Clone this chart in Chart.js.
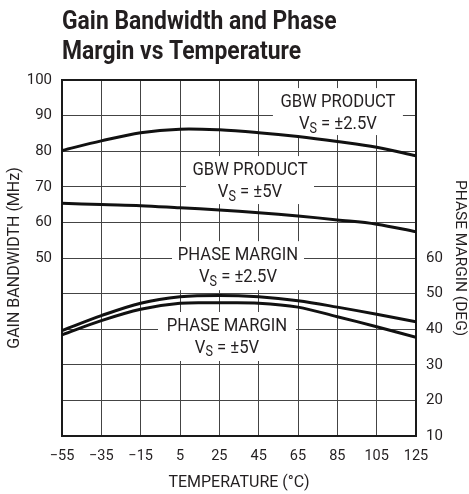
<!DOCTYPE html>
<html><head><meta charset="utf-8">
<script src="https://cdn.jsdelivr.net/npm/chart.js@4/dist/chart.umd.min.js"></script>
<style>html,body{margin:0;padding:0;background:#fff}#wrap{width:469px;height:494px;position:relative}</style>
</head><body><div id="wrap"><canvas id="c" width="469" height="494"></canvas></div>
<script>
// ---- data ----
const temperatures = [-55, -35, -15, 5, 25, 45, 65, 85, 105, 125];
const gbw25 = [80.2, 82.9, 85.2, 86.2, 86.0, 85.2, 84.1, 82.7, 81.1, 78.7];
const gbw5  = [65.4, 65.0, 64.7, 64.1, 63.5, 62.7, 61.8, 60.7, 59.5, 57.4];
const pm25  = [39.6, 43.8, 47.3, 49.1, 49.5, 49.1, 48.0, 46.2, 44.2, 42.1];
const pm5   = [38.4, 42.4, 45.6, 47.3, 47.4, 47.3, 46.2, 43.5, 40.7, 37.7];
const gbwTickLabels = [50, 60, 70, 80, 90, 100];
const pmTickLabels = [10, 20, 30, 40, 50, 60];
const titleLines = ['Gain Bandwidth and Phase', 'Margin vs Temperature'];

const FF = '"Liberation Sans Narrow", "Arial Narrow", "Roboto", sans-serif';
const INK = '#231f20';

function pts(arr) { return temperatures.map((t, i) => ({x: t, y: arr[i]})); }
function fmtMinus(v) { return v < 0 ? '\u2212' + Math.abs(v) : String(v); }

// label anchors in data units (x: °C, y: value on the named axis)
const annotations = [
  {axis: 'y',  x: 85.3, y: 93.8, w: 130, h: 47, line1: 'GBW PRODUCT', rest: ' = \u00b12.5V'},
  {axis: 'y',  x: 40.6, y: 74.7, w: 128, h: 48, line1: 'GBW PRODUCT', rest: ' = \u00b15V'},
  {axis: 'y2', x: 34.5, y: 60.8, w: 132, h: 49, line1: 'PHASE MARGIN', rest: ' = \u00b12.5V'},
  {axis: 'y2', x: 28.9, y: 40.9, w: 138, h: 49, line1: 'PHASE MARGIN', rest: ' = \u00b15V'}
];

const SX = 0.9; // horizontal condensing of the drawn label text

const annoPlugin = {
  id: 'anno',
  beforeDatasetsDraw(chart) {
    const ctx = chart.ctx, xs = chart.scales.x;
    const a = chart.chartArea;
    ctx.save();
    annotations.forEach(an => {
      const ys = chart.scales[an.axis];
      const cx = xs.getPixelForValue(an.x);
      const cy = ys.getPixelForValue(an.y);
      ctx.fillStyle = '#fff';
      ctx.fillRect(cx - an.w / 2, cy - 14, an.w, an.h);
      ctx.save();
      ctx.translate(cx, 0);
      ctx.scale(SX, 1);
      ctx.fillStyle = INK;
      ctx.textBaseline = 'middle';
      ctx.textAlign = 'center';
      ctx.font = '18.5px ' + FF;
      ctx.fillText(an.line1, 0, cy);
      const y2 = cy + 22;
      ctx.textAlign = 'left';
      const wV = ctx.measureText('V').width;
      const wR = ctx.measureText(an.rest).width;
      ctx.font = '14px ' + FF;
      const wS = ctx.measureText('S').width;
      const x0 = -(wV + wS + wR) / 2;
      ctx.font = '18.5px ' + FF;
      ctx.fillText('V', x0, y2);
      ctx.font = '14px ' + FF;
      ctx.fillText('S', x0 + wV, y2 + 5);
      ctx.font = '18.5px ' + FF;
      ctx.fillText(an.rest, x0 + wV + wS, y2);
      ctx.restore();
    });
    ctx.strokeStyle = '#1a1a1a';
    ctx.lineWidth = 2;
    ctx.strokeRect(a.left, a.top, a.right - a.left, a.bottom - a.top);
    ctx.restore();
  },
  afterDraw(chart) {
    const ctx = chart.ctx;
    ctx.save();
    ctx.translate(62, 0);
    ctx.scale(0.88, 1);
    ctx.fillStyle = INK;
    ctx.font = 'bold 26px ' + FF;
    ctx.textBaseline = 'alphabetic';
    ctx.textAlign = 'left';
    ctx.fillText(titleLines[0], 0, 29);
    ctx.fillText(titleLines[1], 0, 59);
    ctx.restore();
  }
};

const lineStyle = {borderColor: '#111', borderWidth: 3, pointRadius: 0, tension: 0.35, fill: false};

new Chart(document.getElementById('c'), {
  type: 'line',
  data: {
    datasets: [
      Object.assign({label: 'GBW Vs=±2.5V', data: pts(gbw25), yAxisID: 'y'}, lineStyle),
      Object.assign({label: 'GBW Vs=±5V', data: pts(gbw5), yAxisID: 'y'}, lineStyle),
      Object.assign({label: 'PM Vs=±2.5V', data: pts(pm25), yAxisID: 'y2'}, lineStyle),
      Object.assign({label: 'PM Vs=±5V', data: pts(pm5), yAxisID: 'y2'}, lineStyle)
    ]
  },
  options: {
    responsive: false,
    animation: false,
    devicePixelRatio: 1,
    layout: {padding: {top: 80, left: 0, right: 0, bottom: 0}},
    plugins: {legend: {display: false}, tooltip: {enabled: false}},
    scales: {
      x: {
        type: 'linear', min: -55, max: 125,
        ticks: {stepSize: 20, color: INK, font: {family: FF, size: 14.5}, padding: 12,
                maxRotation: 0, autoSkip: false, callback: v => fmtMinus(v)},
        grid: {color: '#444', lineWidth: 1, drawTicks: false},
        border: {display: false},
        title: {display: true, text: 'TEMPERATURE (°C)', color: INK, font: {family: FF, size: 16}, padding: {top: 0, bottom: 1}},
        afterFit: s => { s.height = 58; }
      },
      y: {
        position: 'left', min: 0, max: 100,
        ticks: {stepSize: 10, color: INK, font: {family: FF, size: 15}, padding: 10,
                callback: v => gbwTickLabels.includes(v) ? String(v) : ''},
        grid: {color: '#444', lineWidth: 1, drawTicks: false},
        border: {display: false},
        title: {display: true, text: 'GAIN BANDWIDTH (MHz)', color: INK, font: {family: FF, size: 16}, padding: {top: 5, bottom: 0}},
        afterFit: s => { s.width = 62; }
      },
      y2: {
        position: 'right', min: 10, max: 110,
        ticks: {stepSize: 10, color: INK, font: {family: FF, size: 15}, padding: 10,
                callback: v => pmTickLabels.includes(v) ? String(v) : ''},
        grid: {display: false, drawTicks: false},
        border: {display: false},
        title: {display: true, text: 'PHASE MARGIN (DEG)', color: INK, font: {family: FF, size: 15.5}, padding: {top: 0, bottom: 0}},
        afterFit: s => { s.width = 53; }
      }
    }
  },
  plugins: [annoPlugin]
});
</script>
</body></html>
